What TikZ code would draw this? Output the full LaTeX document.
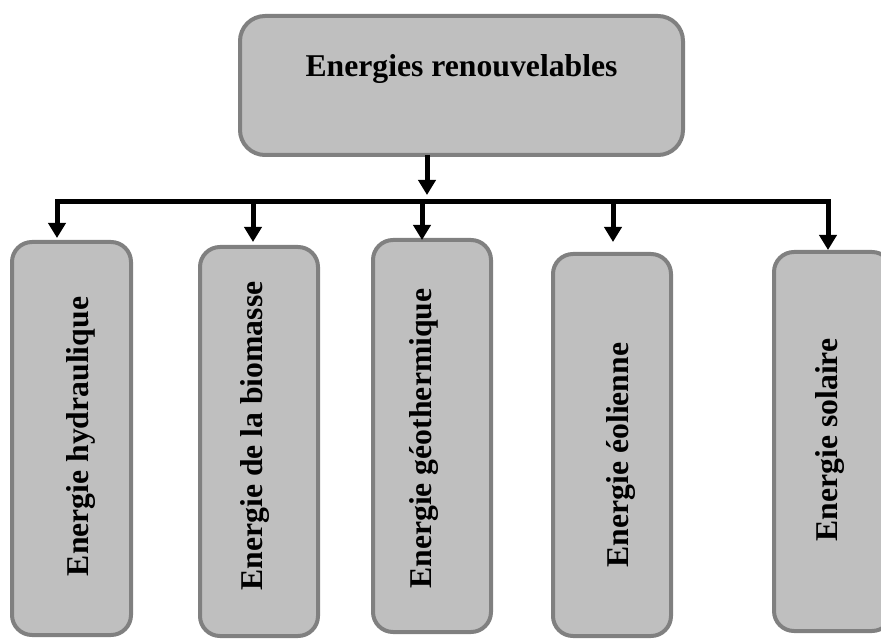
\documentclass[tikz,border=0pt]{standalone}
\usepackage{fontspec}
\setmainfont{Liberation Serif}
\usetikzlibrary{arrows.meta}
\definecolor{boxfill}{RGB}{191,191,191}
\definecolor{boxdraw}{RGB}{128,128,128}
\begin{document}
\begin{tikzpicture}[x=1pt,y=-1pt,
  box/.style={draw=boxdraw, fill=boxfill, line width=4pt, rounded corners=20pt, inner sep=0pt, outer sep=0pt},
  lbl/.style={font=\fontsize{31.7}{36}\selectfont\bfseries, inner sep=0pt, text=black},
  vlbl/.style={lbl, rotate=90},
  arr/.style={line width=5pt, draw=black, line join=miter, -{Triangle[width=17pt,length=15pt]}}
]
\useasboundingbox (0,0) rectangle (881,639);
\fill[white] (0,0) rectangle (881,639);

% top box
\node[box, rounded corners=25pt, minimum width=443pt, minimum height=139pt] (top) at (461.5,85.5) {};
\node[lbl, anchor=base] (title) at (461.5,77) {Energies renouvelables};

% child boxes
\node[box, minimum width=119pt, minimum height=393pt] (b1) at (71.5,438.5) {};
\node[box, minimum width=118pt, minimum height=389pt] (b2) at (259,441.5) {};
\node[box, minimum width=118pt, minimum height=392pt] (b3) at (432,436) {};
\node[box, minimum width=118pt, minimum height=382pt] (b4) at (612,445) {};
\node[box, minimum width=118pt, minimum height=379pt] (b5) at (833,441.5) {};

\node[vlbl] (l1) at (81,436.5) {Energie hydraulique};
\node[vlbl] (l2) at (255,436) {Energie de la biomasse};
\node[vlbl] (l3) at (423.5,438.5) {Energie géothermique};
\node[vlbl] (l4) at (620.5,455) {Energie éolienne};
\node[vlbl] (l5) at (829.5,440) {Energie solaire};

% connectors
\coordinate (bar) at (427,202);
\coordinate (stemtip) at (427,195);
\coordinate (t1) at (57,238);
\coordinate (t2) at (253,242);
\coordinate (t3) at (422,240);
\coordinate (t4) at (613,242);
\coordinate (t5) at (828,250);

\draw[arr] (top.south -| stemtip) -- (stemtip);
\draw[line width=5pt, line join=miter, {Triangle[width=17pt,length=15pt]}-{Triangle[width=17pt,length=15pt]}]
  (t1) |- (t5 |- bar) -- (t5);
\draw[arr] (t2 |- bar) -- (t2);
\draw[arr] (t3 |- bar) -- (t3);
\draw[arr] (t4 |- bar) -- (t4);
\end{tikzpicture}
\end{document}
